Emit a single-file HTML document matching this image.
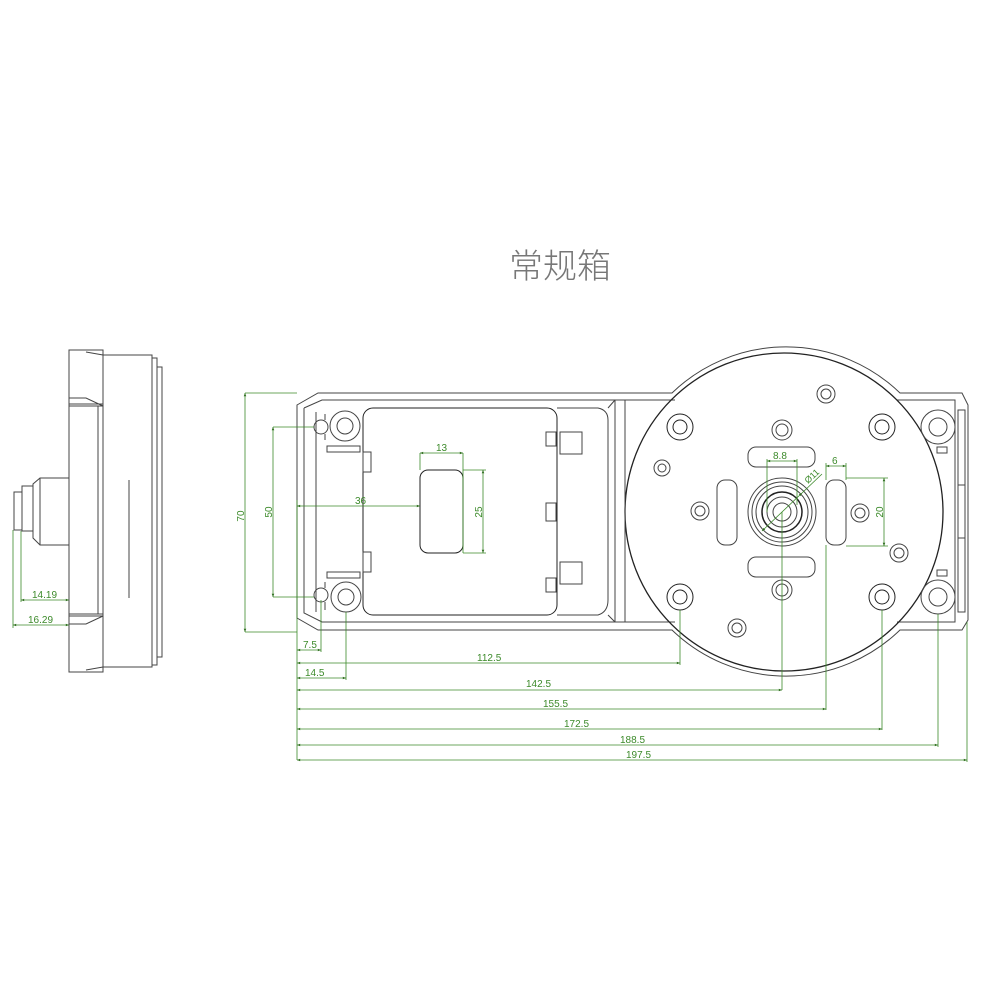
<!DOCTYPE html>
<html><head><meta charset="utf-8"><style>
html,body{margin:0;padding:0;background:#fff}
svg{display:block}
text{font-family:"Liberation Sans","Noto Sans CJK SC",sans-serif}
</style></head><body>
<svg width="1000" height="1000" viewBox="0 0 1000 1000" xmlns="http://www.w3.org/2000/svg">
<defs>
<marker id="a" viewBox="0 0 10 10" refX="10" refY="5" markerWidth="6" markerHeight="4" orient="auto-start-reverse"><path d="M0,1 L10,5 L0,9z" fill="#2f6e1f"/></marker>
</defs>
<text x="560" y="278" font-size="34" fill="#777" text-anchor="middle" style="font-family:'Noto Sans CJK SC',sans-serif;font-weight:300">常规箱</text>

<!-- side view -->
<g fill="none" stroke="#444" stroke-width="1">
<rect x="69" y="350" width="34" height="322"/>
<path d="M69,398 H86 L103,406 M69,404 H103 M69,406 H103"/>
<path d="M69,614 H103 M69,616 H103 M69,624 H86 L103,616"/>
<path d="M86,352 L103,355 M86,670 L103,667"/>
<path d="M98,406 V614"/>
<rect x="103" y="355" width="49" height="312"/>
<path d="M129,480 V598"/>
<rect x="152" y="358" width="5" height="307"/>
<rect x="157" y="367" width="5" height="290"/>
<path d="M69,478 H40 L33,484 V538 L40,545 H69 M40,478 V545"/>
<rect x="22" y="486" width="11" height="45"/>
<rect x="14" y="492" width="8" height="38"/>
</g>
<g stroke="#3c8a2a" stroke-width="0.8" fill="none">
<path d="M21,531 V602 M13,530 V628"/>
<path d="M21,600 H69" marker-start="url(#a)" marker-end="url(#a)"/>
<path d="M13,625 H69" marker-start="url(#a)" marker-end="url(#a)"/>
</g>
<g fill="#3c8a2a" font-size="10">
<text x="32" y="598">14.19</text><text x="28" y="623">16.29</text>
</g>

<!-- main body -->
<g fill="none" stroke="#444" stroke-width="1">
<path d="M297,405 L318,393 H672 A164,164 0 0 1 900,393 H962 L968,405 V620 L962,630 H900 A164,164 0 0 1 672,630 H318 L297,618 Z"/>
<path d="M304,408 L322,400 H675 M304,408 V613 L322,622 H675 M897,400 H955 V622 H897"/>
<circle cx="784" cy="512" r="159" stroke="#222" stroke-width="1.3"/>
<path d="M316,412 V612"/>
<rect x="363" y="408" width="194" height="207" rx="10" stroke="#222"/>
<path d="M557,408 H598 Q608,410 608,420 V600 Q608,612 598,615 H557"/>
<path d="M608,408 L615,400 M608,615 L615,622"/>
<path d="M615,400 V622 M625,400 V622"/>
<rect x="560" y="432" width="22" height="22"/><rect x="546" y="432" width="10" height="14"/>
<rect x="546" y="503" width="10" height="18"/>
<rect x="560" y="562" width="22" height="22"/><rect x="546" y="578" width="10" height="14"/>
<rect x="363" y="452" width="8" height="20"/><rect x="363" y="552" width="8" height="20"/>
<rect x="420" y="470" width="43" height="83" rx="8" stroke="#222"/>
<circle cx="321" cy="427" r="7"/><circle cx="345" cy="426" r="15"/><circle cx="345" cy="426" r="8"/>
<circle cx="321" cy="595" r="7"/><circle cx="346" cy="597" r="15"/><circle cx="346" cy="597" r="8"/>
<path d="M327,446 H360 V452 H327Z M327,572 H360 V578 H327Z M325,414 V420 M325,434 V440 M325,582 V588 M325,602 V610"/>
<!-- circle features -->
<g stroke="#222">
<circle cx="680" cy="427" r="13"/><circle cx="680" cy="427" r="7"/>
<circle cx="882" cy="427" r="13"/><circle cx="882" cy="427" r="7"/>
<circle cx="680" cy="597" r="13"/><circle cx="680" cy="597" r="7"/>
<circle cx="882" cy="597" r="13"/><circle cx="882" cy="597" r="7"/>
</g>
<circle cx="782" cy="430" r="10"/><circle cx="782" cy="430" r="6"/>
<circle cx="826" cy="394" r="9"/><circle cx="826" cy="394" r="5"/>
<circle cx="662" cy="468" r="8"/><circle cx="662" cy="468" r="4"/>
<circle cx="700" cy="511" r="9"/><circle cx="700" cy="511" r="5"/>
<circle cx="860" cy="513" r="9"/><circle cx="860" cy="513" r="5"/>
<circle cx="899" cy="553" r="9"/><circle cx="899" cy="553" r="5"/>
<circle cx="782" cy="590" r="10"/><circle cx="782" cy="590" r="6"/>
<circle cx="737" cy="628" r="9"/><circle cx="737" cy="628" r="5"/>
<rect x="748" y="447" width="67" height="20" rx="8"/>
<rect x="748" y="557" width="67" height="20" rx="8"/>
<rect x="717" y="480" width="20" height="65" rx="8"/>
<rect x="826" y="480" width="20" height="65" rx="8"/>
<circle cx="782" cy="512" r="34"/><circle cx="782" cy="512" r="30"/><circle cx="782" cy="512" r="26"/>
<circle cx="782" cy="512" r="20" stroke="#222" stroke-width="1.5"/><circle cx="782" cy="512" r="15"/><circle cx="782" cy="512" r="9"/>
<circle cx="938" cy="427" r="17"/><circle cx="938" cy="427" r="9"/>
<circle cx="938" cy="597" r="17"/><circle cx="938" cy="597" r="9"/>
<rect x="937" y="447" width="10" height="6"/><rect x="937" y="570" width="10" height="6"/>
<path d="M958,410 H965 V612 H958 Z M958,485 H965 M958,538 H965"/>
</g>

<!-- dims -->
<g stroke="#3c8a2a" stroke-width="0.8" fill="none">
<path d="M245,393 H297 M245,632 H297 M273,427 H314 M273,597 H314"/>
<path d="M245,393 V632" marker-start="url(#a)" marker-end="url(#a)"/>
<path d="M273,427 V597" marker-start="url(#a)" marker-end="url(#a)"/>
<path d="M297,500 V760 M321,600 V652 M346,612 V680 M680,610 V665 M782,512 V690 M826,545 V710 M882,610 V730 M938,614 V747 M967,622 V762"/>
<path d="M297,650 H321" marker-start="url(#a)" marker-end="url(#a)"/>
<path d="M297,663 H680" marker-start="url(#a)" marker-end="url(#a)"/>
<path d="M297,678 H346" marker-start="url(#a)" marker-end="url(#a)"/>
<path d="M297,690 H782" marker-start="url(#a)" marker-end="url(#a)"/>
<path d="M297,709 H826" marker-start="url(#a)" marker-end="url(#a)"/>
<path d="M297,729 H882" marker-start="url(#a)" marker-end="url(#a)"/>
<path d="M297,745 H938" marker-start="url(#a)" marker-end="url(#a)"/>
<path d="M297,760 H967" marker-start="url(#a)" marker-end="url(#a)"/>
<path d="M297,506 H420" marker-start="url(#a)" marker-end="url(#a)"/>
<path d="M420,453 V470 M463,453 V553 M463,470 H486 M463,553 H486"/>
<path d="M420,453 H463" marker-start="url(#a)" marker-end="url(#a)"/>
<path d="M483,470 V553" marker-start="url(#a)" marker-end="url(#a)"/>
<path d="M767,459 V512 M797,459 V505"/>
<path d="M767,461 H797" marker-start="url(#a)" marker-end="url(#a)"/>
<path d="M826,463 V480 M846,463 V480"/>
<path d="M826,466 H846" marker-start="url(#a)" marker-end="url(#a)"/>
<path d="M846,478 H888 M846,546 H888"/>
<path d="M884,478 V546" marker-start="url(#a)" marker-end="url(#a)"/>
<path d="M762,531 L802,493" marker-start="url(#a)" marker-end="url(#a)"/>
<path d="M802,493 L822,474"/>
</g>
<g fill="#3c8a2a" font-size="10">
<text x="240" y="520" transform="rotate(-90 240 516)" text-anchor="middle">70</text>
<text x="268" y="516" transform="rotate(-90 268 512)" text-anchor="middle">50</text>
<text x="303" y="648">7.5</text>
<text x="477" y="661">112.5</text>
<text x="305" y="676">14.5</text>
<text x="526" y="687">142.5</text>
<text x="543" y="707">155.5</text>
<text x="564" y="727">172.5</text>
<text x="620" y="743">188.5</text>
<text x="626" y="758">197.5</text>
<text x="355" y="504">36</text>
<text x="436" y="451">13</text>
<text x="482" y="512" transform="rotate(-90 482 512)" text-anchor="middle">25</text>
<text x="773" y="459">8.8</text>
<text x="832" y="464">6</text>
<text x="883" y="512" transform="rotate(-90 883 512)" text-anchor="middle">20</text>
<text x="808" y="484" transform="rotate(-43 808 484)" font-size="9">Ø11</text>
</g>
</svg>
</body></html>
